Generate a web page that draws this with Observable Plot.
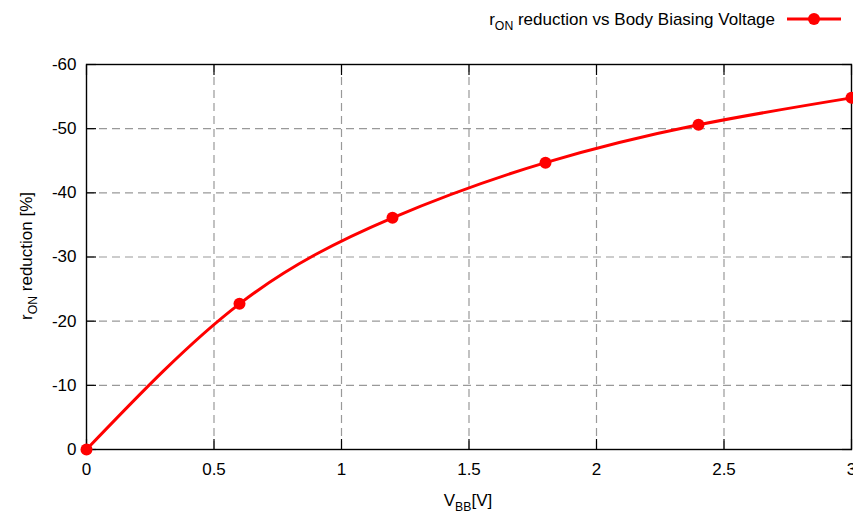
<!DOCTYPE html>
<html>
<head>
<meta charset="utf-8">
<script src="https://cdn.jsdelivr.net/npm/d3@7"></script>
<script src="https://cdn.jsdelivr.net/npm/@observablehq/plot@0.6"></script>
<style>
  html, body { margin: 0; padding: 0; background: #fff; }
  #chart svg { display: block; font-family: "Liberation Sans", Arial, sans-serif; }
</style>
</head>
<body>
<div id="chart"></div>
<script>
const vbb = [0, 0.6, 1.2, 1.8, 2.4, 3.0];
const ronReduction = [0, -22.7, -36.1, -44.7, -50.6, -54.8];
const xTicks = [0, 0.5, 1, 1.5, 2, 2.5, 3];
const yTicks = [0, -10, -20, -30, -40, -50, -60];
const xGrid = [0.5, 1, 1.5, 2, 2.5];
const yGrid = [-10, -20, -30, -40, -50];
const seriesName = "reduction vs Body Biasing Voltage";

const data = vbb.map((x, i) => ({x, y: ronReduction[i]}));
const fs = 17;

const chart = Plot.plot({
  width: 853,
  height: 519,
  marginLeft: 86,
  marginRight: 2,
  marginTop: 64,
  marginBottom: 70,
  style: {fontFamily: '"Liberation Sans", Arial, sans-serif', fontSize: fs + "px", color: "#000", background: "#fff"},
  x: {domain: [0, 3], ticks: xTicks, label: null},
  y: {domain: [0, -60], ticks: yTicks, label: null},
  marks: [
    Plot.gridX(xGrid, {stroke: "#999", strokeOpacity: 1, strokeWidth: 1.2, strokeDasharray: "8,5"}),
    Plot.gridY(yGrid, {stroke: "#999", strokeOpacity: 1, strokeWidth: 1.2, strokeDasharray: "8,5"}),
    Plot.axisX(xTicks, {anchor: "bottom", tickSize: -10, text: null, strokeWidth: 1.2, label: null}),
    Plot.axisX(xTicks, {anchor: "top", tickSize: -10, text: null, strokeWidth: 1.2, label: null}),
    Plot.axisY(yTicks, {anchor: "left", tickSize: -10, text: null, strokeWidth: 1.2, label: null}),
    Plot.axisY(yTicks, {anchor: "right", tickSize: -10, text: null, strokeWidth: 1.2, label: null}),
    Plot.axisX(xTicks, {anchor: "bottom", tickSize: 0, tickPadding: 13, fontSize: fs, label: null, tickFormat: d => String(d)}),
    Plot.axisY(yTicks, {anchor: "left", tickSize: 0, tickPadding: 10, fontSize: fs, label: null, tickFormat: d => String(d)}),
    Plot.frame({stroke: "#000", strokeWidth: 1.4}),
    Plot.line(data, {x: "x", y: "y", curve: "natural", stroke: "#ff0000", strokeWidth: 3}),
    Plot.dot(data, {x: "x", y: "y", r: 6, fill: "#ff0000", stroke: "none"})
  ]
});

document.getElementById("chart").appendChild(chart);

const svg = d3.select(chart);
const font = '"Liberation Sans", Arial, sans-serif';

// Y axis label
const yl = svg.append("text")
  .attr("transform", "translate(32,256) rotate(-90)")
  .attr("text-anchor", "middle")
  .attr("font-family", font)
  .attr("font-size", fs)
  .attr("fill", "#000");
yl.append("tspan").text("r");
yl.append("tspan").attr("font-size", fs * 0.72).attr("dy", 5).text("ON");
yl.append("tspan").attr("dy", -5).text(" reduction [%]");

// X axis label
const xl = svg.append("text")
  .attr("x", 468)
  .attr("y", 506)
  .attr("text-anchor", "middle")
  .attr("font-family", font)
  .attr("font-size", fs)
  .attr("fill", "#000");
xl.append("tspan").text("V");
xl.append("tspan").attr("font-size", fs * 0.72).attr("dy", 5).text("BB");
xl.append("tspan").attr("dy", -5).text("[V]");

// Legend
const lg = svg.append("text")
  .attr("x", 775)
  .attr("y", 25)
  .attr("text-anchor", "end")
  .attr("font-family", font)
  .attr("font-size", fs)
  .attr("fill", "#000");
lg.append("tspan").text("r");
lg.append("tspan").attr("font-size", fs * 0.72).attr("dy", 5).text("ON");
lg.append("tspan").attr("dy", -5).text(" " + seriesName);

svg.append("line").attr("x1", 787).attr("x2", 841).attr("y1", 19).attr("y2", 19)
  .attr("stroke", "#ff0000").attr("stroke-width", 3);
svg.append("circle").attr("cx", 814).attr("cy", 19).attr("r", 6).attr("fill", "#ff0000");
</script>
</body>
</html>
